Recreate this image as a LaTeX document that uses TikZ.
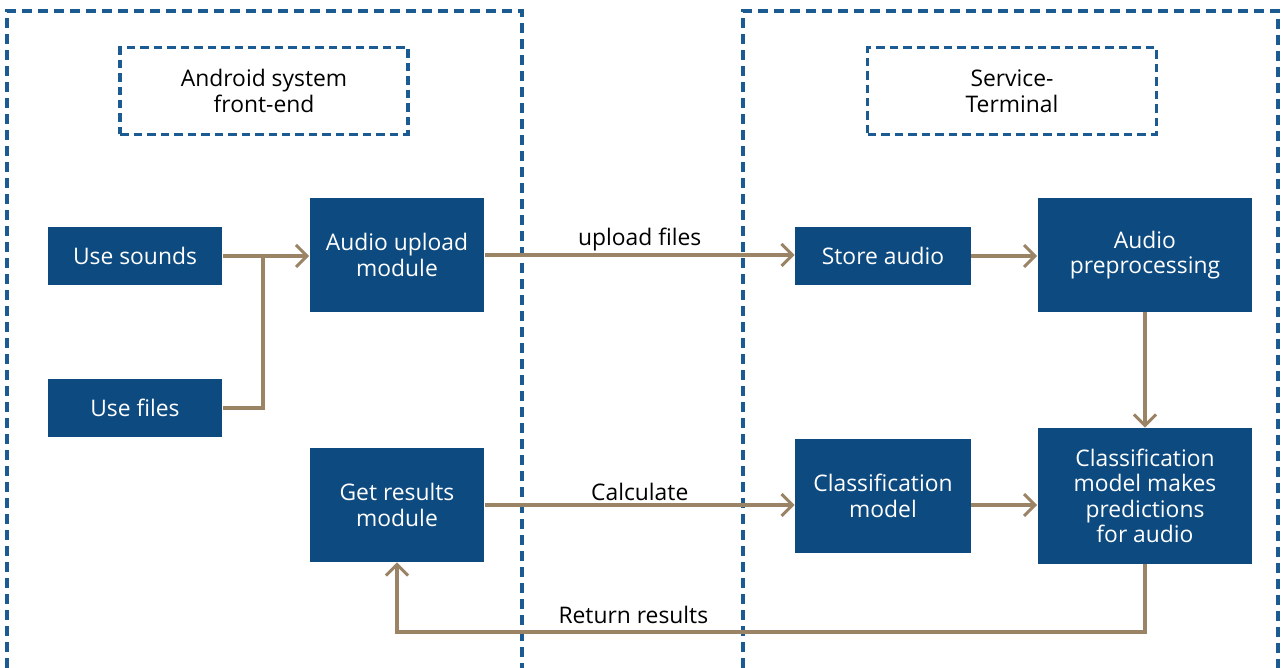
\documentclass[tikz,border=0pt]{standalone}
\usepackage{fontspec}
\setmainfont{Open Sans}
\usetikzlibrary{arrows.meta}
\definecolor{boxblue}{HTML}{0D4A80}
\definecolor{dashblue}{HTML}{1C5A92}
\definecolor{linkbrown}{HTML}{9B8466}
\begin{document}
\begin{tikzpicture}[x=0.02cm, y=-0.02cm,
  every node/.style={font=\fontsize{13}{14.5}\selectfont},
  block/.style={fill=boxblue, text=white, align=center, inner sep=0pt},
  zone/.style={draw=dashblue, line width=1.8pt, dash pattern=on 0.2cm off 0.12cm},
  tag/.style={zone, dash pattern=on 0.17cm off 0.1cm, align=center, inner sep=0pt},
  link/.style={draw=linkbrown, line width=1.75pt, -{Straight Barb[length=0.22cm, width=0.44cm, line width=1.75pt]}},
  plain/.style={draw=linkbrown, line width=1.75pt}]
\useasboundingbox (0,0) rectangle (1282,668);
% dashed zones
\draw[zone] (7,668) -- (7,11) -- (522,11) -- (522,668);
\draw[zone] (743,668) -- (743,11) -- (1278,11) -- (1278,668);
\node[tag, minimum width=5.76cm, minimum height=1.74cm] (android) at (264,91) {Android system\\front-end};
\node[tag, minimum width=5.78cm, minimum height=1.74cm] (server) at (1012,91) {Service-\\Terminal};
% front-end blocks
\node[block, minimum width=3.5cm, minimum height=1.18cm] (sounds) at (135,256) {Use sounds};
\node[block, minimum width=3.5cm, minimum height=1.18cm] (files) at (135,408) {Use files};
\node[block, minimum width=3.5cm, minimum height=2.28cm] (upload) at (397,255) {Audio upload\\module};
\node[block, minimum width=3.5cm, minimum height=2.28cm] (getres) at (397,505) {Get results\\module};
% server blocks
\node[block, minimum width=3.52cm, minimum height=1.18cm] (store) at (883,256) {Store audio};
\node[block, minimum width=4.3cm, minimum height=2.28cm] (prep) at (1145,255) {Audio\\preprocessing};
\node[block, minimum width=3.52cm, minimum height=2.28cm] (clsmodel) at (883,496) {Classification\\model};
\node[block, minimum width=4.3cm, minimum height=2.72cm] (predict) at (1145,496) {Classification\\model makes\\predictions\\for audio};
% connectors
\coordinate (join) at (263,256);
\coordinate (back) at (1145,632);
\draw[plain] (files.east) -| (join);
\draw[link] (sounds.east) -- (upload.west |- sounds.east);
\draw[link] (upload.east) -- node[above=-2pt] (lblup) {upload files} (store.west |- upload.east);
\draw[link] (store.east) -- (prep.west |- store.east);
\draw[link] (prep.south) -- (predict.north);
\draw[link] (getres.east) -- node[above=-2pt] (lblcalc) {Calculate} (clsmodel.west |- getres.east);
\draw[link] (clsmodel.east |- getres.east) -- (predict.west |- getres.east);
\draw[link] (predict.south) -- (back) -| node[pos=0.342, above=0.5pt] (lblret) {Return results} (getres.south);
\end{tikzpicture}
\end{document}
